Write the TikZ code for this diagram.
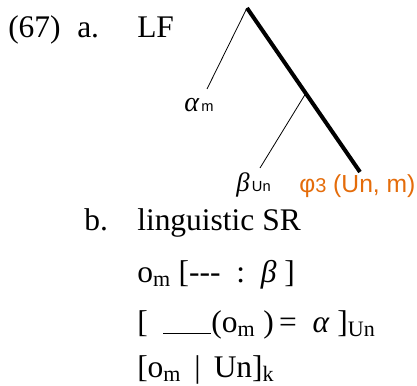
\documentclass[tikz,border=0pt]{standalone}
\usepackage{fontspec}
\setmainfont{Liberation Serif}
\newfontfamily\arialfont{Liberation Sans}
\definecolor{phiorange}{HTML}{E46C0A}
\begin{document}
\begin{tikzpicture}[x=0.75pt,y=-0.75pt,
  ex/.style={anchor=base west,inner sep=0pt,font=\fontsize{23.6}{28}\selectfont},
  leaf/.style={anchor=base west,inner sep=0pt,font=\arialfont\fontsize{11}{13}\selectfont},
  branch/.style={line width=0.6pt},
  head/.style={line width=3pt}]
\useasboundingbox (0,0) rectangle (417,385);
\node[ex] (num) at (8,38) {(67)};
\node[ex] (a) at (77,38) {a.};
\node[ex] (lf) at (137,38) {LF};
\coordinate (root) at (247,8);
\coordinate (mid) at (306,93);
\coordinate (alphaend) at (207,89);
\coordinate (betaend) at (260,168);
\coordinate (phiend) at (360,172);
\node[leaf] (alpha) at (184,111) {{\rmfamily\itshape\fontsize{21}{24}\selectfont α}\,m};
\node[leaf] (beta) at (236,191) {{\rmfamily\itshape\fontsize{20}{24}\selectfont β}\,Un};
\node[leaf,text=phiorange,font=\arialfont\fontsize{18.5}{22}\selectfont] (phi) at (299,192)
  {φ{\fontsize{15}{18}\selectfont 3} (Un, m)};
\draw[head] (root) -- (phiend);
\draw[branch] (root) -- (alphaend);
\draw[branch] (mid) -- (betaend);
\node[ex] (b) at (84,230) {b.};
\node[ex] (sr) at (137,230) {linguistic SR};
\node[ex] (sr1) at (137,282) {o\textsubscript{m} [-{}-{}-\ \ :\ \ \textit{β} ]};
\node[ex] (sr2) at (137,332)
  {[\ \ \rule[-1.5pt]{36pt}{1pt}(o\textsubscript{m} )\,=\ \ \textit{α} ]\textsubscript{Un}};
\node[ex] (sr3) at (137,377) {[o\textsubscript{m} \,|\, Un]\textsubscript{k}};
\end{tikzpicture}
\end{document}
